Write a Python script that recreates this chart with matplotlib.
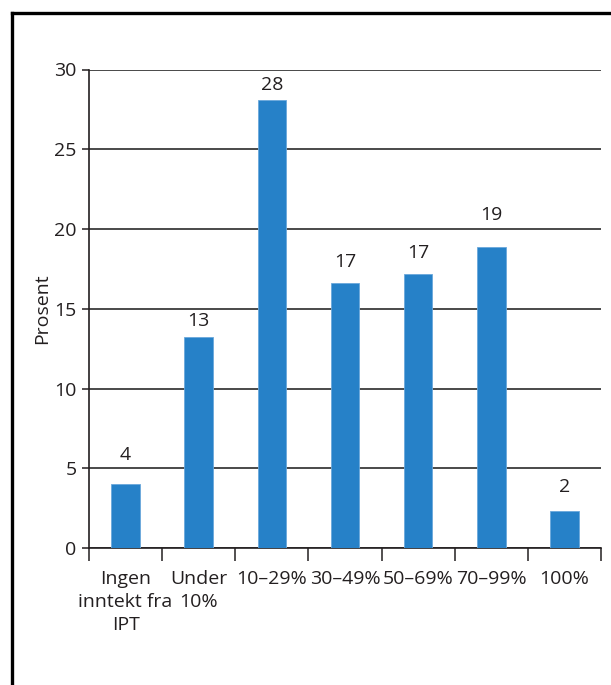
import matplotlib.pyplot as plt
from matplotlib.lines import Line2D

# ===========
# DATA
# ===========
categories = ["Ingen\ninntekt fra\nIPT", "Under\n10%", "10–29%", "30–49%",
              "50–69%", "70–99%", "100%"]
shares = [4.0, 13.2, 28.1, 16.6, 17.2, 18.9, 2.3]
yticks = [0, 5, 10, 15, 20, 25, 30]

# how far each value label sits above its bar (pixels)
label_lift = [29, 16, 15, 21, 21, 32, 24]

BAR_COLOR = "#2681c8"
TXT = "#231f20"
W, H = 611, 685

plt.rcParams['font.family'] = ['Open Sans', 'DejaVu Sans']

fig = plt.figure(figsize=(W / 100, H / 100), dpi=100)
ax = fig.add_axes([89 / W, 1 - 548 / H, (601 - 89) / W, (548 - 69.5) / H])

x = list(range(len(categories)))
ax.bar(x, shares, width=0.39, color=BAR_COLOR, edgecolor="#6aa8db",
       linewidth=0.6, zorder=3)
for xi, v, lift in zip(x, shares, label_lift):
    ax.annotate(f"{v:.0f}", (xi, v), xytext=(0, lift),
                textcoords="offset pixels", ha="center", va="center",
                fontsize=14, color=TXT)

ax.set_xlim(-0.5, len(categories) - 0.5)
ax.set_ylim(0, 30)
ax.set_yticks(yticks)
ax.set_yticklabels([str(t) for t in yticks], fontsize=14, color=TXT)
ax.yaxis.grid(True, color="#3a3a3a", linewidth=1.3, zorder=0)
ax.set_axisbelow(True)

# category separators as ticks on the x axis
ax.set_xticks([i - 0.5 for i in range(len(categories) + 1)])
ax.set_xticklabels([])
ax.set_xticks(x, minor=True)
ax.set_xticklabels(categories, minor=True, fontsize=14, color=TXT,
                   linespacing=1.35)
ax.tick_params(axis="x", which="major", length=9, width=1.1, color=TXT)
ax.tick_params(axis="x", which="minor", length=0, pad=16)
ax.tick_params(axis="y", length=5, width=1.1, color=TXT, pad=4)

for side in ("top", "right"):
    ax.spines[side].set_visible(False)
for side in ("left", "bottom"):
    ax.spines[side].set_color(TXT)
    ax.spines[side].set_linewidth(1.2)

ax.set_ylabel("Prosent", fontsize=14, color=TXT, labelpad=2)

# outer frame (top and left edge)
fig.add_artist(Line2D([12 / W, 1.0], [1 - 13 / H, 1 - 13 / H],
                      color="black", linewidth=2.4))
fig.add_artist(Line2D([12 / W, 12 / W], [0.0, 1 - 13 / H],
                      color="black", linewidth=2.4))

fig.savefig("out.png", dpi=100)
